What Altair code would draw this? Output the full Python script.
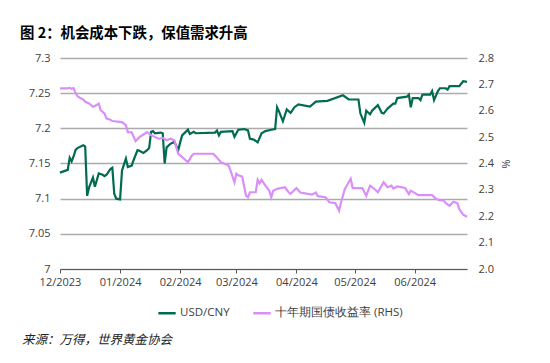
import altair as alt
import pandas as pd

# USD/CNY (left axis)
fx_dates = ["2023-12-01","2023-12-05","2023-12-06","2023-12-07","2023-12-08","2023-12-09","2023-12-10",
            "2023-12-13","2023-12-14","2023-12-15","2023-12-16","2023-12-18","2023-12-19","2023-12-21",
            "2023-12-23","2023-12-24","2023-12-25","2023-12-27","2023-12-28","2023-12-29","2023-12-30",
            "2024-01-01","2024-01-02","2024-01-04","2024-01-05","2024-01-07","2024-01-08","2024-01-10",
            "2024-01-11","2024-01-13","2024-01-15","2024-01-16","2024-01-17","2024-01-18","2024-01-19",
            "2024-01-22","2024-01-23","2024-01-24","2024-01-25","2024-01-27","2024-01-29","2024-01-30",
            "2024-01-31","2024-02-01","2024-02-02","2024-02-05","2024-02-06","2024-02-08","2024-02-09",
            "2024-02-19","2024-02-20","2024-02-21","2024-02-22","2024-02-28","2024-02-29","2024-03-02",
            "2024-03-05","2024-03-07","2024-03-08","2024-03-10","2024-03-12","2024-03-14","2024-03-16",
            "2024-03-19","2024-03-21","2024-03-22","2024-03-23","2024-03-25","2024-03-27","2024-03-29",
            "2024-03-31","2024-04-02","2024-04-08","2024-04-11","2024-04-17","2024-04-25","2024-04-28",
            "2024-05-03","2024-05-04","2024-05-06","2024-05-07","2024-05-09","2024-05-10","2024-05-13",
            "2024-05-15","2024-05-16","2024-05-18","2024-05-21","2024-05-22","2024-05-23","2024-05-28",
            "2024-05-29","2024-05-30","2024-05-31","2024-06-03","2024-06-04","2024-06-05","2024-06-09",
            "2024-06-10","2024-06-11","2024-06-13","2024-06-14","2024-06-17","2024-06-18","2024-06-19",
            "2024-06-24","2024-06-26","2024-06-28"]
fx_values = [7.137,7.141,7.158,7.153,7.160,7.169,7.172,
             7.176,7.174,7.104,7.116,7.130,7.117,7.136,
             7.134,7.132,7.134,7.142,7.144,7.107,7.100,
             7.099,7.140,7.157,7.145,7.147,7.155,7.169,
             7.168,7.165,7.169,7.172,7.195,7.196,7.193,
             7.194,7.193,7.150,7.173,7.178,7.181,7.175,
             7.169,7.180,7.190,7.198,7.192,7.195,7.193,
             7.194,7.197,7.190,7.195,7.196,7.188,7.198,
             7.199,7.197,7.185,7.184,7.180,7.193,7.196,
             7.198,7.199,7.230,7.224,7.210,7.227,7.222,
             7.230,7.234,7.231,7.238,7.239,7.247,7.241,
             7.241,7.221,7.208,7.225,7.220,7.225,7.233,
             7.222,7.221,7.228,7.235,7.235,7.243,7.245,
             7.248,7.230,7.243,7.243,7.240,7.248,7.248,
             7.253,7.240,7.253,7.257,7.257,7.255,7.260,
             7.260,7.267,7.266]

# 10-year government bond yield (right axis, %)
yd_dates = ["2023-12-01","2023-12-05","2023-12-06","2023-12-07","2023-12-08","2023-12-09","2023-12-10",
            "2023-12-12","2023-12-13","2023-12-14","2023-12-16","2023-12-18","2023-12-19","2023-12-21",
            "2023-12-22","2023-12-24","2023-12-25","2023-12-27","2023-12-28","2024-01-02","2024-01-04",
            "2024-01-05","2024-01-07","2024-01-09","2024-01-11","2024-01-13","2024-01-15","2024-01-17",
            "2024-01-19","2024-01-21","2024-01-23","2024-01-25","2024-01-27","2024-01-29","2024-01-31",
            "2024-02-01","2024-02-03","2024-02-05","2024-02-07","2024-02-08","2024-02-18","2024-02-19",
            "2024-02-22","2024-02-26","2024-02-27","2024-02-29","2024-03-01","2024-03-02","2024-03-04",
            "2024-03-06","2024-03-07","2024-03-08","2024-03-11","2024-03-12","2024-03-13","2024-03-14",
            "2024-03-16","2024-03-18","2024-03-19","2024-03-20","2024-03-22","2024-03-26","2024-03-28",
            "2024-03-29","2024-04-01","2024-04-03","2024-04-09","2024-04-11","2024-04-12","2024-04-16",
            "2024-04-18","2024-04-21","2024-04-23","2024-04-24","2024-04-26","2024-04-29","2024-04-30",
            "2024-05-05","2024-05-07","2024-05-09","2024-05-11","2024-05-13","2024-05-16","2024-05-18",
            "2024-05-20","2024-05-21","2024-05-23","2024-05-27","2024-05-29","2024-05-30","2024-06-03",
            "2024-06-10","2024-06-12","2024-06-14","2024-06-16","2024-06-17","2024-06-19","2024-06-21",
            "2024-06-23","2024-06-24","2024-06-26","2024-06-28"]
yd_values = [2.685,2.685,2.687,2.683,2.686,2.668,2.655,
             2.646,2.643,2.634,2.628,2.615,2.618,2.627,
             2.602,2.589,2.570,2.566,2.561,2.557,2.545,
             2.519,2.518,2.485,2.500,2.510,2.519,2.508,
             2.500,2.494,2.497,2.488,2.494,2.488,2.437,
             2.431,2.418,2.405,2.430,2.437,2.437,2.430,
             2.405,2.392,2.373,2.329,2.361,2.355,2.350,
             2.278,2.272,2.291,2.291,2.338,2.325,2.338,
             2.316,2.297,2.272,2.297,2.304,2.310,2.291,
             2.285,2.307,2.290,2.282,2.290,2.276,2.272,
             2.253,2.250,2.221,2.253,2.304,2.342,2.307,
             2.307,2.278,2.316,2.305,2.291,2.329,2.310,
             2.316,2.305,2.313,2.307,2.284,2.297,2.280,
             2.280,2.266,2.260,2.260,2.250,2.240,2.255,
             2.250,2.227,2.206,2.198]

series_names = ["USD/CNY", "十年期国债收益率 (RHS)"]
series_colors = ["#006B50", "#DA8EFA"]
left_ticks = [7.0, 7.05, 7.1, 7.15, 7.2, 7.25, 7.3]
right_ticks = [2.0, 2.1, 2.2, 2.3, 2.4, 2.5, 2.6, 2.7, 2.8]
month_ticks = ["2023-12-01","2024-01-01","2024-02-01","2024-03-01","2024-04-01","2024-05-01","2024-06-01"]

title_text = "图 2：机会成本下跌，保值需求升高"
source_text = "来源：万得，世界黄金协会"

fx_df = pd.DataFrame({"date": fx_dates, "value": fx_values, "series": series_names[0]})
yd_df = pd.DataFrame({"date": yd_dates, "value": yd_values, "series": series_names[1]})

FONT = "Open Sans"
LABEL_COLOR = "#404040"

x_enc = alt.X("date:T",
              scale=alt.Scale(domain=["2023-12-01", "2024-06-28"], nice=False),
              axis=alt.Axis(title=None, values=month_ticks, format="%m/%Y",
                            labelFont=FONT, labelFontSize=11, labelColor=LABEL_COLOR,
                            domainColor="#595959", domainWidth=1.2,
                            tickColor="#595959", tickSize=4, tickWidth=1,
                            grid=False, labelPadding=3, labelFlush=False))

color_enc = alt.Color("series:N",
                      scale=alt.Scale(domain=series_names, range=series_colors),
                      legend=alt.Legend(title=None, orient="none", direction="horizontal",
                                        legendX=97, legendY=245,
                                        symbolType="stroke", symbolSize=300, symbolStrokeWidth=2.5,
                                        labelFont=FONT, labelFontSize=11.5, labelColor=LABEL_COLOR,
                                        columnPadding=18, labelOffset=3))

fx_line = alt.Chart(fx_df).mark_line(strokeWidth=2.2, interpolate="linear").encode(
    x=x_enc,
    y=alt.Y("value:Q",
            scale=alt.Scale(domain=[7.0, 7.3], nice=False, zero=False),
            axis=alt.Axis(title=None, values=left_ticks, format="~g", orient="left",
                          labelFont=FONT, labelFontSize=11, labelColor=LABEL_COLOR,
                          domain=False, ticks=False, labelPadding=10,
                          grid=True, gridColor="#ABABAB", gridWidth=1.5)),
    color=color_enc,
)

yd_line = alt.Chart(yd_df).mark_line(strokeWidth=2.2, interpolate="linear").encode(
    x=x_enc,
    y=alt.Y("value:Q",
            scale=alt.Scale(domain=[2.0, 2.8], nice=False, zero=False),
            axis=alt.Axis(title="%", values=right_ticks, format=".1f", orient="right",
                          labelFont=FONT, labelFontSize=11, labelColor=LABEL_COLOR,
                          titleFont=FONT, titleFontSize=11, titleFontWeight="normal",
                          titleColor=LABEL_COLOR, titlePadding=6,
                          domain=False, ticks=False, labelPadding=11, grid=False)),
    color=color_enc,
)

source = alt.Chart(pd.DataFrame({"t": [source_text]})).mark_text(
    align="left", baseline="middle", font="Noto Sans CJK SC", fontSize=12.5,
    fontStyle="italic", color="#222222"
).encode(x=alt.value(-38), y=alt.value(282), text="t:N")

chart = alt.layer(fx_line, yd_line, source).resolve_scale(y="independent").properties(
    width=407, height=211,
    title=alt.TitleParams(title_text, anchor="start", frame="group", dx=-40, offset=11,
                          font="Noto Sans CJK SC", fontSize=14.4, fontWeight="bold",
                          color="#000000"),
    autosize=alt.AutoSizeParams(type="none"),
    padding={"left": 52, "top": 50, "right": 75, "bottom": 85},
).configure_view(stroke=None)

chart.save("out.html", embed_options={"renderer": "svg", "actions": False})
